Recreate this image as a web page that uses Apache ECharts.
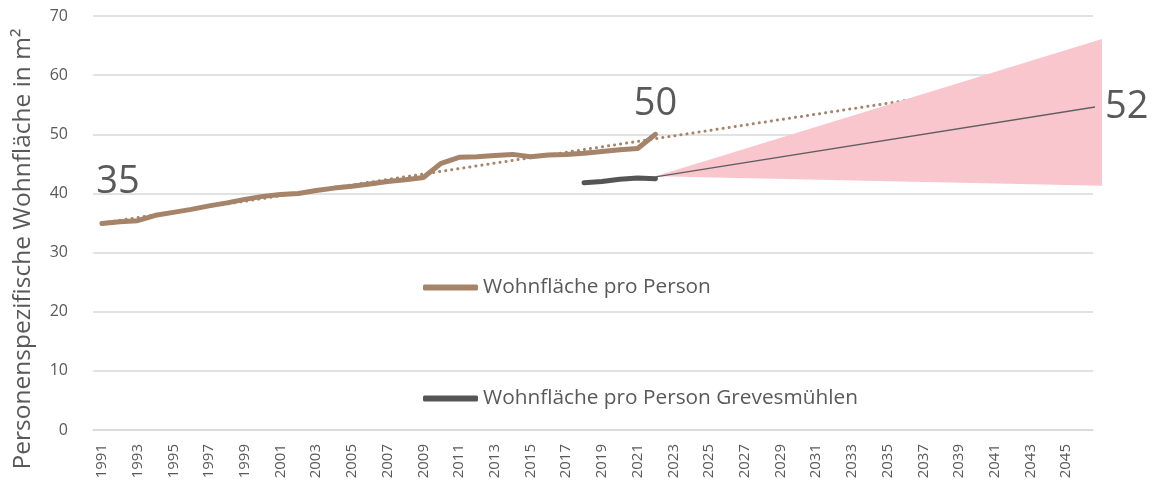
<!DOCTYPE html>
<html>
<head>
<meta charset="utf-8">
<script src="https://cdn.jsdelivr.net/npm/echarts@6/dist/echarts.min.js"></script>
<style>
  html, body { margin: 0; padding: 0; background: #fff; }
  #chart { width: 1154px; height: 494px; }
</style>
</head>
<body>
<div id="chart"></div>
<script>
// Wohnfläche pro Person (Deutschland)
const years = [1991, 1992, 1993, 1994, 1995, 1996, 1997, 1998, 1999, 2000,
  2001, 2002, 2003, 2004, 2005, 2006, 2007, 2008, 2009, 2010,
  2011, 2012, 2013, 2014, 2015, 2016, 2017, 2018, 2019, 2020, 2021, 2022]
const flaeche = [34.9, 35.2, 35.4, 36.3, 36.8, 37.3, 37.9, 38.4, 39.0, 39.5,
  39.8, 40.0, 40.5, 40.9, 41.2, 41.6, 42.0, 42.3, 42.7, 45.1,
  46.1, 46.2, 46.4, 46.6, 46.2, 46.5, 46.6, 46.8, 47.1, 47.4, 47.6, 50.0]

// Grevesmühlen
const yearsGm = [2018, 2019, 2020, 2021, 2022]
const flaecheGm = [41.8, 42.0, 42.4, 42.6, 42.5]

// lineare Trendlinie (gepunktet)
const trendYears = [1991, 2046]
const trendValues = [35.0, 60.3]

// Prognose Grevesmühlen + Korridor
const progYears = [2022, 2047]
const progValues = [42.8, 54.8]
const coneLow = [42.9, 41.3]
const coneHigh = [42.9, 66.1]

// Achsenbeschriftung
const xLabels = [1991, 1993, 1995, 1997, 1999, 2001, 2003, 2005, 2007, 2009,
  2011, 2013, 2015, 2017, 2019, 2021, 2023, 2025, 2027, 2029, 2031, 2033,
  2035, 2037, 2039, 2041, 2043, 2045]

const annoText = ['35', '50']
const annoYears = [1991, 2022]
const annoValues = [34.9, 50.0]
const progLabel = '52'

const textColor = '#595959'
const font = '"Open Sans", sans-serif'

const pairs = (xs, ys) => xs.map((x, i) => [x, ys[i]])

const chart = echarts.init(document.getElementById('chart'))
chart.setOption({
  animation: false,
  textStyle: { fontFamily: font },
  grid: { left: 93, right: 61, top: 16, bottom: 64 },
  legend: {
    orient: 'vertical',
    left: 423,
    top: 277,
    padding: 0,
    itemGap: 90,
    itemWidth: 55,
    itemHeight: 6,
    icon: 'roundRect',
    data: ['Wohnfläche pro Person', 'Wohnfläche pro Person Grevesmühlen'],
    textStyle: { color: textColor, fontSize: 20.8, lineHeight: 20, fontFamily: font }
  },
  xAxis: {
    type: 'value',
    min: 1990.5,
    max: 2046.5,
    splitLine: { show: false },
    axisTick: { show: false },
    axisLine: { lineStyle: { color: '#d9d9d9', width: 1.5 } },
    axisLabel: {
      customValues: xLabels,
      formatter: v => String(v),
      rotate: 90,
      margin: 14,
      color: textColor,
      fontSize: 15,
      fontFamily: font
    }
  },
  yAxis: {
    type: 'value',
    min: 0,
    max: 70,
    interval: 10,
    name: 'Personenspezifische Wohnfläche in m²',
    nameLocation: 'middle',
    nameGap: 57,
    nameTextStyle: { color: textColor, fontSize: 24.5, fontFamily: font, padding: [0, 52, 0, 0] },
    axisLine: { show: false },
    axisTick: { show: false },
    splitLine: { lineStyle: { color: '#d9d9d9', width: 1.5 } },
    axisLabel: { color: textColor, fontSize: 16, margin: 25, fontFamily: font }
  },
  series: [
    {
      name: 'Trend',
      type: 'line',
      z: 2,
      data: pairs(trendYears, trendValues),
      symbol: 'none',
      clip: false,
      lineStyle: { color: '#a5846a', width: 3, type: [0.1, 6], cap: 'round' }
    },
    {
      name: 'Korridor',
      type: 'custom',
      z: 3,
      data: [0],
      renderItem: function (params, api) {
        const pts = [api.coord([progYears[0], coneLow[0]])]
        for (let i = 1; i < progYears.length; i++) pts.push(api.coord([progYears[i], coneHigh[i]]))
        for (let i = progYears.length - 1; i > 0; i--) pts.push(api.coord([progYears[i], coneLow[i]]))
        return { type: 'polygon', shape: { points: pts }, style: { fill: '#f9c6ce' } }
      }
    },
    {
      name: 'Wohnfläche pro Person',
      type: 'line',
      z: 4,
      data: pairs(years, flaeche),
      symbol: 'none',
      itemStyle: { color: '#a5846a' },
      lineStyle: { color: '#a5846a', width: 5, cap: 'round', join: 'round' },
      markPoint: {
        symbol: 'circle',
        symbolSize: 0,
        data: annoText.map((t, i) => ({
          coord: [annoYears[i], annoValues[i]],
          value: t,
          label: { offset: i === 0 ? [16, -41] : [0, -30] }
        })),
        label: { show: true, position: 'inside', color: textColor, fontSize: 38, fontFamily: font, formatter: '{c}' }
      }
    },
    {
      name: 'Wohnfläche pro Person Grevesmühlen',
      type: 'line',
      z: 4,
      data: pairs(yearsGm, flaecheGm),
      symbol: 'none',
      itemStyle: { color: '#555555' },
      lineStyle: { color: '#555555', width: 5, cap: 'round', join: 'round' }
    },
    {
      name: 'Prognose',
      type: 'line',
      z: 4,
      data: pairs(progYears, progValues),
      symbol: 'none',
      clip: false,
      lineStyle: { color: '#5f5f5f', width: 1.5 },
      endLabel: { show: true, formatter: progLabel, color: textColor, fontSize: 38, fontFamily: font, distance: 10 }
    }
  ]
})
</script>
</body>
</html>
